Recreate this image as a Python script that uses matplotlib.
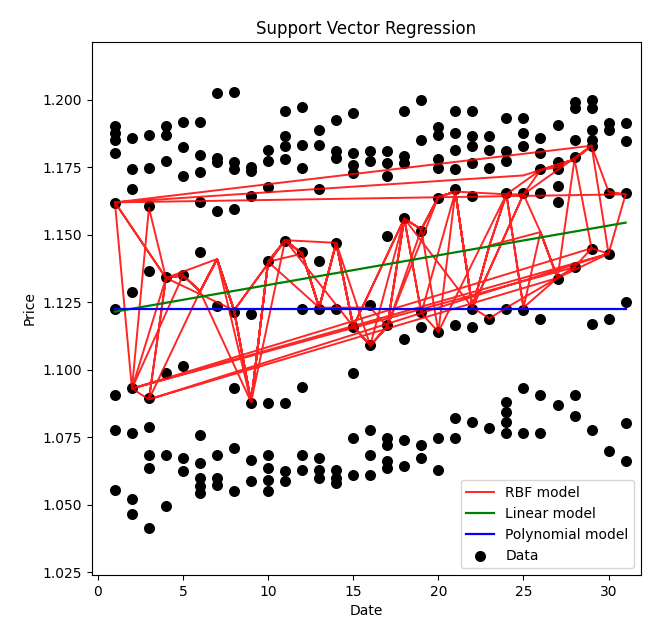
import matplotlib
matplotlib.use("Agg")
import matplotlib.pyplot as plt

# prices observed on each day of the month (several months stacked)
prices_by_day = {
    1: [1.1902, 1.1877, 1.1853, 1.1803, 1.1619, 1.1226, 1.0906, 1.0777, 1.0556],
    2: [1.1859, 1.1742, 1.1668, 1.1287, 1.0931, 1.0765, 1.0519, 1.0464],
    3: [1.1871, 1.1748, 1.1607, 1.1367, 1.0894, 1.0789, 1.0685, 1.0636, 1.0415],
    4: [1.1902, 1.1871, 1.1773, 1.1342, 1.0986, 1.0684, 1.0496],
    5: [1.1919, 1.1827, 1.1716, 1.1350, 1.1012, 1.0673, 1.0625],
    6: [1.1919, 1.1796, 1.1734, 1.1620, 1.1436, 1.0757, 1.0654, 1.0599, 1.0570, 1.0544],
    7: [1.2026, 1.1786, 1.1768, 1.1587, 1.1235, 1.0684, 1.0599, 1.0573],
    8: [1.2030, 1.1768, 1.1742, 1.1594, 1.1215, 1.0931, 1.0710, 1.0551],
    9: [1.1753, 1.1735, 1.1642, 1.1207, 1.0875, 1.0665, 1.0588],
    10: [1.1816, 1.1772, 1.1676, 1.1403, 1.0875, 1.0684, 1.0635, 1.0590, 1.0550],
    11: [1.1957, 1.1865, 1.1828, 1.1779, 1.1478, 1.0875, 1.0623, 1.0587],
    12: [1.1975, 1.1834, 1.1748, 1.1435, 1.1226, 1.0937, 1.0685, 1.0630],
    13: [1.1889, 1.1834, 1.1668, 1.1404, 1.1226, 1.0673, 1.0630, 1.0599],
    14: [1.1926, 1.1809, 1.1785, 1.1471, 1.1226, 1.0630, 1.0599, 1.0580],
    15: [1.1950, 1.1803, 1.1760, 1.1729, 1.1158, 1.0986, 1.0746, 1.0611],
    16: [1.1809, 1.1773, 1.1238, 1.1090, 1.0777, 1.0685, 1.0611],
    17: [1.1809, 1.1766, 1.1717, 1.1496, 1.1164, 1.0746, 1.0722, 1.0660, 1.0636],
    18: [1.1957, 1.1791, 1.1766, 1.1564, 1.1115, 1.0740, 1.0642],
    19: [1.2000, 1.1852, 1.1515, 1.1213, 1.1158, 1.0722, 1.0673],
    20: [1.1901, 1.1870, 1.1779, 1.1748, 1.1637, 1.1140, 1.0746, 1.0630],
    21: [1.1957, 1.1877, 1.1816, 1.1742, 1.1668, 1.1164, 1.0820, 1.0746],
    22: [1.1957, 1.1865, 1.1828, 1.1767, 1.1644, 1.1226, 1.1158, 1.0808],
    23: [1.1865, 1.1816, 1.1748, 1.1189, 1.0783],
    24: [1.1932, 1.1809, 1.1773, 1.1656, 1.1226, 1.0882, 1.0845, 1.0808, 1.0765],
    25: [1.1932, 1.1877, 1.1828, 1.1656, 1.1220, 1.0931, 1.0765],
    26: [1.1859, 1.1803, 1.1742, 1.1656, 1.1189, 1.0905, 1.0765],
    27: [1.1908, 1.1768, 1.1742, 1.1680, 1.1620, 1.1336, 1.0868],
    28: [1.1993, 1.1970, 1.1853, 1.1790, 1.1379, 1.0905, 1.0827],
    29: [1.2000, 1.1970, 1.1889, 1.1852, 1.1828, 1.1447, 1.1170, 1.0776],
    30: [1.1914, 1.1889, 1.1656, 1.1429, 1.1189, 1.0699],
    31: [1.1914, 1.1846, 1.1656, 1.1251, 1.0802, 1.0662],
}

# RBF predictions in the order the rows were fed in (unsorted, so the line zigzags)
rbf_days = [31, 30, 29, 28, 27, 26, 25, 24, 23, 22, 21, 20, 19, 18, 17, 16, 15, 14, 13, 12, 11, 10, 9, 8, 7, 6, 5, 4, 3, 2, 1,
            31, 30, 29, 28, 27, 24, 23, 22, 21, 20, 19, 18, 17, 16, 15, 14, 13, 12, 11, 10, 9, 8, 7, 6, 5, 4, 3,
            30, 29, 28, 27, 26, 25, 24, 23, 22, 21, 20, 19, 18, 17, 16, 15, 14, 13, 12, 11, 10, 9, 8, 7, 6, 5, 4, 3, 2,
            28, 27, 26, 25, 22, 21, 20, 19, 18, 15, 14, 13, 12, 11, 8, 7, 6, 5, 4, 1,
            29, 25, 22, 18, 15, 11, 8, 4, 2,
            30, 27, 26, 23, 22, 21, 20, 17, 16, 15, 14, 13, 10, 9, 8, 7, 6, 3,
            27, 25, 24, 20, 19, 17, 16, 13, 12, 10, 9, 6, 5, 2,
            29, 28, 26, 24, 21, 19, 18, 16, 14, 11, 9, 7, 4, 1,
            25, 28, 29]
rbf_vals = [1.165, 1.166, 1.183, 1.178, 1.175, 1.174, 1.165, 1.165, 1.146, 1.123, 1.166, 1.164, 1.152, 1.156, 1.116, 1.109,
            1.116, 1.147, 1.123, 1.143, 1.148, 1.140, 1.088, 1.122, 1.141, 1.129, 1.135, 1.134, 1.089, 1.093, 1.162,
            1.165, 1.143, 1.145, 1.138, 1.134, 1.123, 1.119, 1.123, 1.166, 1.114, 1.121, 1.156, 1.116, 1.109, 1.116,
            1.147, 1.123, 1.143, 1.148, 1.140, 1.088, 1.122, 1.141, 1.129, 1.135, 1.134, 1.089,
            1.143, 1.183, 1.178, 1.134, 1.151, 1.123, 1.165, 1.146, 1.123, 1.166, 1.164, 1.152, 1.156, 1.116, 1.109,
            1.116, 1.147, 1.123, 1.143, 1.148, 1.140, 1.088, 1.122, 1.141, 1.129, 1.135, 1.134, 1.160, 1.093,
            1.138, 1.134, 1.151, 1.165, 1.123, 1.166, 1.164, 1.152, 1.156, 1.116, 1.147, 1.123, 1.143, 1.148,
            1.122, 1.141, 1.129, 1.135, 1.134, 1.162,
            1.183, 1.165, 1.123, 1.156, 1.116, 1.148, 1.122, 1.134, 1.093,
            1.143, 1.134, 1.151, 1.146, 1.123, 1.166, 1.164, 1.116, 1.109, 1.116, 1.147, 1.123, 1.140, 1.088,
            1.122, 1.141, 1.129, 1.089,
            1.134, 1.123, 1.165, 1.114, 1.152, 1.116, 1.123, 1.123, 1.143, 1.140, 1.088, 1.129, 1.135, 1.093,
            1.145, 1.178, 1.174, 1.165, 1.166, 1.121, 1.156, 1.109, 1.147, 1.148, 1.088, 1.141, 1.134, 1.162,
            1.172, 1.178, 1.183]

line_days = [1, 31]
linear_vals = [1.1215, 1.1545]
poly_vals = [1.1225, 1.1225]

dates = []
prices = []
for d, ps in prices_by_day.items():
    dates += [d] * len(ps)
    prices += ps

fig = plt.figure(figsize=(6.52, 6.34), dpi=100)
ax = fig.add_axes([0.141, 0.093, 0.842, 0.841])

ax.scatter(dates, prices, color='black', s=48, label='Data')
ax.plot(rbf_days, rbf_vals, color='red', lw=1.4, alpha=0.85, label='RBF model')
ax.plot(line_days, linear_vals, color='green', lw=1.6, label='Linear model')
ax.plot(line_days, poly_vals, color='blue', lw=1.6, label='Polynomial model')

ax.set_xlim(-0.35, 31.9)
ax.set_ylim(1.0239, 1.2215)
ax.set_xticks([0, 5, 10, 15, 20, 25, 30])
ax.set_yticks([1.025, 1.050, 1.075, 1.100, 1.125, 1.150, 1.175, 1.200])
ax.set_yticklabels(['1.025', '1.050', '1.075', '1.100', '1.125', '1.150', '1.175', '1.200'])
ax.set_xlabel('Date')
ax.set_ylabel('Price')
ax.set_title('Support Vector Regression')

h, l = ax.get_legend_handles_labels()
order = ['RBF model', 'Linear model', 'Polynomial model', 'Data']
hd = dict(zip(l, h))
ax.legend([hd[k] for k in order], order, loc='lower right')

fig.savefig('out.png', dpi=100)
